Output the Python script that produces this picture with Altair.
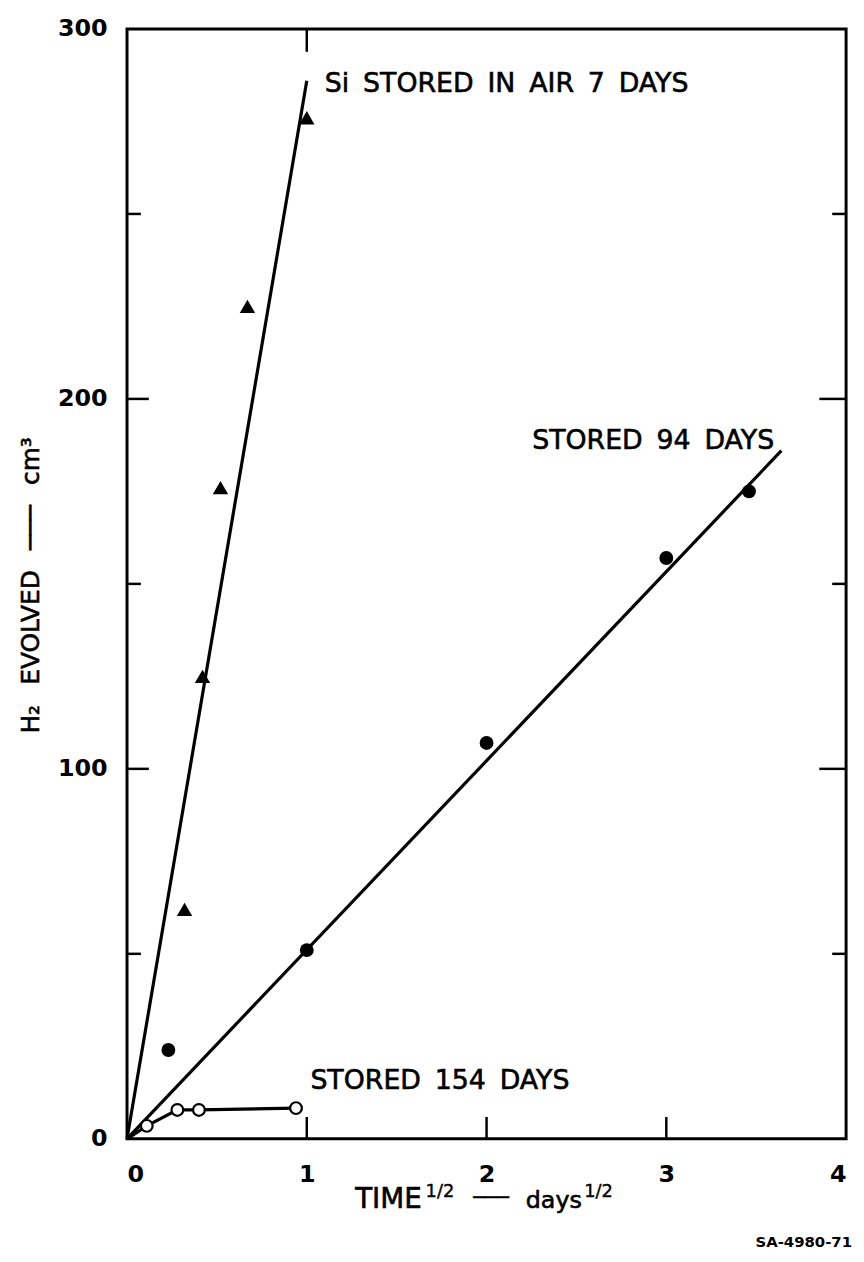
import altair as alt
import pandas as pd

# ---- data ----
tri_x = [0.32, 0.42, 0.52, 0.67, 1.0]
tri_y = [62, 125, 176, 225, 276]
dot_x = [0.23, 1.0, 2.0, 3.0, 3.46]
dot_y = [24, 51, 107, 157, 175]
open_x = [0.11, 0.28, 0.40, 0.94]
open_y = [3.5, 7.8, 7.8, 8.3]
open_line_x = [0.0] + open_x
open_line_y = [0.0] + open_y
fit_air_x = [0.0, 1.0]
fit_air_y = [0.0, 286]
fit_94_x = [0.0, 3.64]
fit_94_y = [0.0, 186]

x_ticks = [0, 1, 2, 3, 4]
x_inner_ticks = [1, 2, 3]
x_top_ticks = [1]
y_ticks = [0, 100, 200, 300]
y_major_inner = [100, 200]
y_minor_inner = [50, 150, 250]

SP = "\u00a0\u2009"
label_text = ["Si" + SP + "STORED" + SP + "IN" + SP + "AIR" + SP + "7" + SP + "DAYS",
              "STORED" + SP + "94" + SP + "DAYS",
              "STORED" + SP + "154" + SP + "DAYS"]
label_x = [1.10, 3.60, 1.02]
label_y = [285, 188.5, 15.5]

W, H = 725, 1119
FONT = "DejaVu Sans"
xs = alt.Scale(domain=[0, 4], nice=False, zero=False)
ys = alt.Scale(domain=[0, 300], nice=False, zero=False)
X_AX = alt.Axis(values=x_ticks, title=None, format="d", labelPadding=24)
Y_AX = alt.Axis(values=y_ticks, title=None, format="d", labelPadding=20)

def X(f):
    return alt.X(f, scale=xs, axis=X_AX)

def Y(f):
    return alt.Y(f, scale=ys, axis=Y_AX)

def line_layer(xv, yv):
    df = pd.DataFrame({"x": xv, "y": yv})
    return alt.Chart(df).mark_line(color="black", strokeWidth=3.2).encode(x=X("x:Q"), y=Y("y:Q"))

fit_air = line_layer(fit_air_x, fit_air_y)
fit94 = line_layer(fit_94_x, fit_94_y)
open_line = line_layer(open_line_x, open_line_y)

tri = alt.Chart(pd.DataFrame({"x": tri_x, "y": tri_y})).mark_point(
    shape="triangle-up", filled=True, color="black", size=240, opacity=1).encode(x=X("x:Q"), y=Y("y:Q"))
dots = alt.Chart(pd.DataFrame({"x": dot_x, "y": dot_y})).mark_point(
    shape="circle", filled=True, color="black", size=195, opacity=1).encode(x=X("x:Q"), y=Y("y:Q"))
opens = alt.Chart(pd.DataFrame({"x": open_x, "y": open_y})).mark_point(
    shape="circle", filled=True, fill="white", stroke="black", strokeWidth=2.2, size=140,
    opacity=1).encode(x=X("x:Q"), y=Y("y:Q"))

lab_df = pd.DataFrame({"x": label_x, "y": label_y, "t": label_text,
                       "a": ["left", "right", "left"]})
def labs(al):
    return alt.Chart(lab_df[lab_df.a == al]).mark_text(
        font=FONT, fontSize=27, align=al, baseline="middle", color="black",
        stroke="black", strokeWidth=0.6).encode(x=X("x:Q"), y=Y("y:Q"), text="t:N")

# inward ticks
def yticks(vals, x0, x1):
    return alt.Chart(pd.DataFrame({"v": vals})).mark_rule(color="black", strokeWidth=2.5).encode(
        y=Y("v:Q"), x=alt.value(x0), x2=alt.value(x1))

def xticks(vals, y0, y1):
    return alt.Chart(pd.DataFrame({"v": vals})).mark_rule(color="black", strokeWidth=2.5).encode(
        x=X("v:Q"), y=alt.value(y0), y2=alt.value(y1))

ticks = [
    yticks(y_major_inner, 0, 22), yticks(y_minor_inner, 0, 14),
    yticks(y_major_inner, W, W - 27), yticks(y_minor_inner, W, W - 14),
    xticks(x_inner_ticks, H, H - 22), xticks(x_top_ticks, 0, 23),
]

dummy = pd.DataFrame({"a": [0]})
def ptext(txt, x, y, size=25, angle=0, align="left", weight="normal", sw=0.6):
    return alt.Chart(dummy).mark_text(text=txt, font=FONT, fontSize=size, angle=angle,
                                      align=align, baseline="alphabetic", color="black",
                                      fontWeight=weight, stroke="black", strokeWidth=sw).encode(
        x=alt.value(x), y=alt.value(y))

DASH = "\u2500\u2500\u2500"
titles = [
    ptext("TIME", 230, 1189, size=28),
    ptext("1/2", 301, 1178, size=18, sw=0.4),
    ptext(DASH, 349, 1185, size=20, sw=0.4),
    ptext("days", 402, 1189, size=24),
    ptext("1/2", 461, 1178, size=18, sw=0.4),
    ptext("SA-4980-71", 731, 1228, size=15, align="right", weight="bold", sw=0),
    alt.Chart(dummy).mark_text(text="H₂\u2002\u00a0EVOLVED\u2002\u00a0" + DASH + "\u2002\u00a0cm³",
                               font=FONT, fontSize=25, angle=270, align="center", baseline="middle",
                               color="black", stroke="black", strokeWidth=0.6).encode(
        x=alt.value(-97), y=alt.value(561)),
]

chart = alt.layer(fit_air, fit94, open_line, tri, dots, opens, labs("left"), labs("right"),
                  *ticks, *titles).properties(
    width=W, height=H,
    autosize=alt.AutoSizeParams(type="none"),
    padding={"left": 120, "top": 16, "right": 10, "bottom": 110},
).configure_view(stroke="black", strokeWidth=3).configure_axis(
    ticks=False, tickSize=0, domain=False, grid=False, labelFont=FONT, labelFontSize=24,
    labelFontWeight="bold", labelColor="black")

chart.save("out.html", embed_options={"renderer": "svg", "actions": False})
